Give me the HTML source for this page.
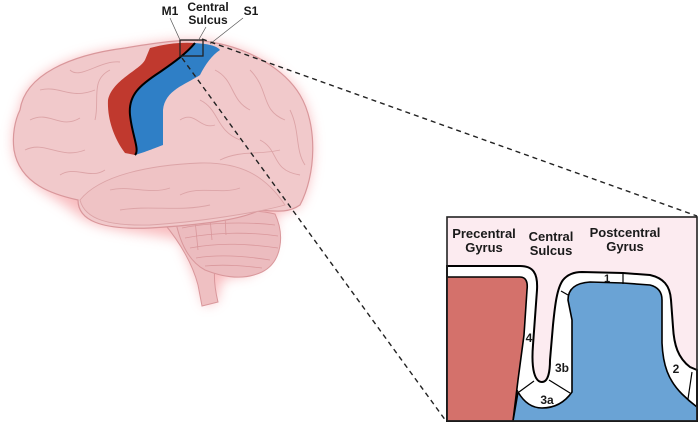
<!DOCTYPE html>
<html><head><meta charset="utf-8"><style>
html,body{margin:0;padding:0;background:#fff;width:700px;height:424px;overflow:hidden}
svg{display:block}
text{font-family:"Liberation Sans",sans-serif;font-weight:bold;fill:#1a1a1a}
</style></head><body>
<svg width="700" height="424" viewBox="0 0 700 424" xmlns="http://www.w3.org/2000/svg">
<defs>
<filter id="glow" x="-20%" y="-20%" width="140%" height="140%"><feGaussianBlur stdDeviation="6"/></filter>
</defs>
<g filter="url(#glow)" fill="#f6a0a4" opacity="0.7">
<path d="M20,110 C25,75 70,55 125,48 C160,42 190,38 210,42 C250,48 285,70 300,95 C318,125 316,175 300,205 C290,212 280,212 275,214 C280,240 265,275 240,276 C225,276 218,280 218,300 L205,306 C200,285 190,265 180,240 C150,232 100,232 78,215 C55,195 20,185 14,150 C12,135 15,120 20,110 Z"/>
</g>
<path d="M163,222 C178,240 192,262 198,285 L202,306 L218,302 C213,282 212,262 222,245 L215,225 Z" fill="#efc0c2" stroke="#d9979b" stroke-width="1"/>
<path d="M175,218 C200,210 250,208 275,214 C285,235 282,262 262,272 C245,280 225,278 205,270 C190,262 180,245 175,218 Z" fill="#ecbcbf" stroke="#d9979b" stroke-width="1"/>
<g stroke="#d9979b" stroke-width="0.8" fill="none">
<path d="M182,228 C210,222 250,222 275,225"/><path d="M185,238 C215,232 250,232 278,236"/><path d="M190,248 C220,242 250,244 278,248"/><path d="M196,258 C220,254 245,256 270,260"/><path d="M205,266 C225,264 245,266 262,268"/>
<path d="M195,220 L198,250"/><path d="M210,218 L212,240"/><path d="M225,216 L226,235"/>
</g>
<path d="M20,110 C25,75 70,55 125,48 C160,42 190,38 210,42 C250,48 285,70 300,95 C318,125 316,175 300,205 C290,212 280,212 260,210 C240,220 200,225 150,228 C100,230 78,220 78,200 C55,195 20,185 14,150 C12,135 15,120 20,110 Z" fill="#f1c9cb" stroke="#d9979b" stroke-width="1.2"/>
<path d="M80,200 C100,175 150,165 200,163 C240,162 265,175 285,205 C260,212 200,222 150,225 C110,226 85,220 80,200Z" fill="#efc3c5" stroke="#dca4a7" stroke-width="0.9"/>
<g stroke="#dca4a7" stroke-width="0.9" fill="none">
<path d="M30,120 C50,110 60,130 80,118"/><path d="M25,150 C45,140 60,160 85,150"/><path d="M40,90 C60,85 70,100 95,90"/>
<path d="M60,175 C75,165 90,180 105,170"/><path d="M95,120 C100,100 90,80 110,70"/><path d="M70,70 C80,80 100,60 120,62"/>
<path d="M215,70 C235,80 230,100 250,110"/><path d="M250,70 C270,90 260,110 285,120"/><path d="M200,100 C220,110 215,130 240,140"/>
<path d="M260,140 C280,150 270,170 300,175"/><path d="M220,160 C240,150 260,155 280,150"/><path d="M180,120 C195,110 200,130 215,125"/>
<path d="M110,190 C130,185 150,195 170,188"/><path d="M180,195 C200,185 220,195 240,188"/><path d="M120,210 C150,205 180,212 210,205"/>
<path d="M290,110 C300,130 295,150 305,165"/>
</g>
<path d="M150,48 C165,44 180,42 195,43 C185,55 170,65 160,72 C140,85 128,95 130,115 C132,135 140,150 135,155 L125,153 C115,140 107,120 108,100 C112,80 140,70 145,60 Z" fill="#c0392e"/>
<path d="M195,43 L205,44 C212,45 218,47 220,50 C212,55 205,65 200,75 C185,85 165,90 163,110 L163,145 C150,150 145,152 135,155 C140,150 132,135 130,115 C128,95 140,85 160,72 C170,65 185,55 195,43 Z" fill="#2f7fc6"/>
<path d="M195,43 C185,55 170,65 160,72 C140,85 128,95 130,115 C132,135 140,150 135,155" fill="none" stroke="#000" stroke-width="2"/>
<rect x="180" y="40" width="23" height="16" fill="none" stroke="#222" stroke-width="1.3"/>
<g stroke="#555" stroke-width="0.7"><line x1="170" y1="18" x2="180" y2="40"/><line x1="206" y1="27" x2="198" y2="41"/><line x1="243" y1="18" x2="210" y2="44"/></g>
<text x="170" y="15" font-size="12" text-anchor="middle">M1</text>
<text x="208" y="11" font-size="12" text-anchor="middle">Central</text>
<text x="208" y="24" font-size="12" text-anchor="middle">Sulcus</text>
<text x="251" y="15" font-size="12" text-anchor="middle">S1</text>
<g stroke="#222" stroke-width="1.4" stroke-dasharray="5,4"><line x1="202" y1="39" x2="697" y2="216"/><line x1="182" y1="58" x2="446" y2="421"/></g>
<rect x="447" y="217" width="250" height="204" fill="#fcebf0"/>
<path d="M447,266 L520,266 C533,266 538,273 537,290 L533,345 C531,370 535,382 542,382 C548,382 550,372 550,360 L553,325 C555,305 557,288 563,280 C568,274 575,272 582,272 L623,273 L650,275 C663,278 670,285 671,300 L673,327 C674,345 678,358 690,367 L697,370 L697,421 L447,421 Z" fill="#fff" stroke="#000" stroke-width="2"/>
<path d="M447,277 L520,277 C526,277 528,282 527,290 L524,335 L518,380 L513,421 L447,421 Z" fill="#d4716b" stroke="#000" stroke-width="1.6"/>
<path d="M513,421 L518,392 C525,404 534,408 542,408 C555,408 565,402 572,392 L572,320 L568,300 C568,289 575,283 590,282 L623,283 L650,285 C658,287 662,292 662,300 L662,343 C663,365 668,380 682,394 C688,400 693,404 697,407 L697,421 Z" fill="#6aa3d5" stroke="#000" stroke-width="1.6"/>
<g stroke="#000" stroke-width="1.2"><line x1="519" y1="392" x2="534" y2="381"/><line x1="549" y1="380" x2="570" y2="393"/><line x1="623" y1="273" x2="623" y2="284"/><line x1="561" y1="291" x2="568" y2="295"/><line x1="692" y1="372" x2="688" y2="399"/></g>
<rect x="447" y="217" width="250" height="204" fill="none" stroke="#222" stroke-width="1.6"/>
<g font-size="13" text-anchor="middle">
<text x="484" y="238">Precentral</text><text x="484" y="252">Gyrus</text>
<text x="551" y="241">Central</text><text x="551" y="255">Sulcus</text>
<text x="625" y="237">Postcentral</text><text x="625" y="251">Gyrus</text>
<text x="529" y="342" font-size="12">4</text><text x="562" y="372" font-size="12">3b</text><text x="547" y="404" font-size="12">3a</text>
<text x="607" y="282" font-size="11">1</text><text x="676" y="373" font-size="12">2</text>
</g>
</svg>
</body></html>
